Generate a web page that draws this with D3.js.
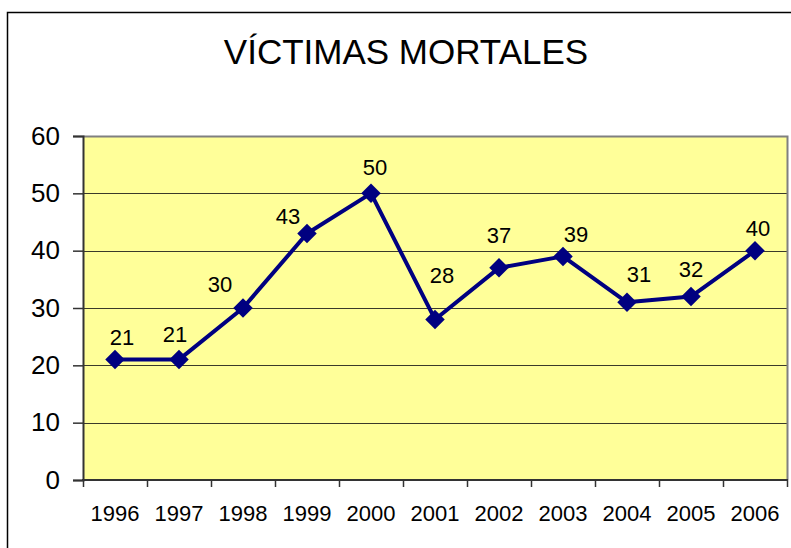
<!DOCTYPE html>
<html>
<head>
<meta charset="utf-8">
<script src="https://cdn.jsdelivr.net/npm/d3@7"></script>
<style>
  html, body { margin: 0; padding: 0; background: #fff; overflow: hidden; }
  svg { display: block; font-family: "Liberation Sans", Arial, sans-serif; }
</style>
</head>
<body>
<div id="chart"></div>
<script>
  // data
  var years  = ['1996', '1997', '1998', '1999', '2000', '2001', '2002', '2003', '2004', '2005', '2006'];
  var deaths = [21, 21, 30, 43, 50, 28, 37, 39, 31, 32, 40];
  var yTicks = [0, 10, 20, 30, 40, 50, 60];
  var title  = 'VÍCTIMAS MORTALES';

  // hand placement of the value labels (dx, dy from the marker), as in the original
  var labelNudge = [[7, -15], [-4, -18], [-23, -16], [-19, -9], [4, -18], [7, -36],
                    [0, -25], [13, -14], [12, -20], [0, -20], [3, -15]];

  var W = 791, H = 548;
  var plot = { left: 83, top: 136, right: 787, bottom: 480 };

  var svg = d3.select('#chart').append('svg')
    .attr('width', W).attr('height', H);

  // outer chart frame (runs off the right/bottom of the picture)
  svg.append('rect')
    .attr('x', 7.5).attr('y', 12.5)
    .attr('width', W + 20).attr('height', H + 20)
    .attr('fill', 'none').attr('stroke', '#000').attr('stroke-width', 1.5);

  svg.append('text')
    .attr('x', 406).attr('y', 64)
    .attr('text-anchor', 'middle')
    .attr('font-size', '35px')
    .attr('fill', '#000')
    .text(title);

  var x = d3.scaleBand().domain(years).range([plot.left, plot.right]);
  var y = d3.scaleLinear().domain([0, 60]).range([plot.bottom, plot.top]);

  // plot area
  svg.append('rect')
    .attr('x', plot.left).attr('y', plot.top)
    .attr('width', plot.right - plot.left).attr('height', plot.bottom - plot.top)
    .attr('fill', '#ffff99');

  // gridlines
  svg.append('g').selectAll('line')
    .data(yTicks.filter(function (t) { return t > 0 && t < 60; }))
    .enter().append('line')
    .attr('x1', plot.left).attr('x2', plot.right)
    .attr('y1', function (d) { return Math.round(y(d)) + 0.5; })
    .attr('y2', function (d) { return Math.round(y(d)) + 0.5; })
    .attr('stroke', '#3a3a2a').attr('stroke-width', 1);

  // top / right border of the plot area
  svg.append('path')
    .attr('d', 'M' + plot.left + ',' + (plot.top + 0.5) + 'H' + (plot.right + 0.5) + 'V' + plot.bottom)
    .attr('fill', 'none').attr('stroke', '#808080').attr('stroke-width', 2);

  // y axis
  var yAxis = d3.axisLeft(y).tickValues(yTicks).tickSize(10).tickPadding(13);
  var gy = svg.append('g').attr('transform', 'translate(' + plot.left + ',0)').call(yAxis);
  gy.select('.domain').attr('stroke', '#333').attr('stroke-width', 2);
  gy.selectAll('.tick line').attr('stroke', '#333').attr('stroke-width', 1.5);
  gy.selectAll('.tick text')
    .attr('font-size', '26px').attr('font-family', '"Liberation Sans", Arial, sans-serif')
    .attr('fill', '#000');

  // x axis: ticks sit between categories, labels centred in each band
  var gx = svg.append('g').attr('transform', 'translate(0,' + plot.bottom + ')');
  gx.append('line')
    .attr('x1', plot.left - 1).attr('x2', plot.right + 1)
    .attr('stroke', '#333').attr('stroke-width', 2);
  var edges = years.map(function (d) { return x(d); }).concat([plot.right]);
  gx.selectAll('line.tick').data(edges).enter().append('line')
    .attr('class', 'tick')
    .attr('x1', function (d) { return Math.round(d) + 0.5; })
    .attr('x2', function (d) { return Math.round(d) + 0.5; })
    .attr('y1', 0).attr('y2', 7)
    .attr('stroke', '#333').attr('stroke-width', 1.5);
  gx.selectAll('text').data(years).enter().append('text')
    .attr('x', function (d) { return x(d) + x.bandwidth() / 2; })
    .attr('y', 41)
    .attr('text-anchor', 'middle')
    .attr('font-size', '22px')
    .attr('fill', '#000')
    .text(function (d) { return d; });

  // series
  var pts = years.map(function (yr, i) {
    return { year: yr, v: deaths[i], cx: x(yr) + x.bandwidth() / 2, cy: y(deaths[i]), nudge: labelNudge[i] };
  });

  svg.append('path')
    .datum(pts)
    .attr('d', d3.line().x(function (d) { return d.cx; }).y(function (d) { return d.cy; }))
    .attr('fill', 'none')
    .attr('stroke', '#000080')
    .attr('stroke-width', 4)
    .attr('stroke-linejoin', 'round');

  var diamond = d3.symbol().type(d3.symbolSquare).size(190);
  svg.append('g').selectAll('path').data(pts).enter().append('path')
    .attr('d', diamond)
    .attr('transform', function (d) { return 'translate(' + d.cx + ',' + d.cy + ') rotate(45)'; })
    .attr('fill', '#000080');

  svg.append('g').selectAll('text').data(pts).enter().append('text')
    .attr('x', function (d) { return d.cx + d.nudge[0]; })
    .attr('y', function (d) { return d.cy + d.nudge[1]; })
    .attr('text-anchor', 'middle')
    .attr('font-size', '22px')
    .attr('fill', '#000')
    .text(function (d) { return d.v; });
</script>
</body>
</html>
